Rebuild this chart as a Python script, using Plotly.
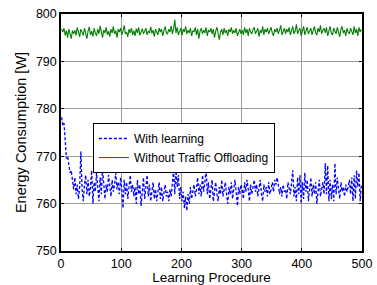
import plotly.graph_objects as go

# x positions (learning steps)
steps = list(range(1, 500, 2))

with_learning = [
    778.2, 776.5, 777.0, 772.0, 769.5, 770.0, 768.0, 766.5, 767.0, 764.5,
    763.0, 765.5, 762.0, 764.0, 761.0, 763.5, 771.0, 763.0, 760.5, 764.0,
    766.0, 762.0, 765.0, 761.5, 763.5, 767.0, 760.0, 764.5, 762.5, 766.5,
    763.0, 760.5, 765.5, 762.0, 767.5, 763.5, 761.0, 764.0, 762.5, 766.0,
    763.5, 761.5, 765.0, 762.5, 764.0, 766.5, 763.0, 764.5, 762.0, 765.5,
    763.0, 759.0, 765.0, 762.0, 764.5, 761.0, 763.5, 766.0, 762.5, 764.0,
    761.5, 763.5, 760.0, 765.0, 762.0, 764.0, 759.5, 763.0, 765.5, 761.0,
    763.5, 766.0, 761.5, 764.0, 760.5, 762.5, 764.5, 761.0, 763.0, 760.5,
    762.5, 764.5, 761.0, 763.5, 760.5, 762.0, 764.0, 761.5, 762.5, 760.5,
    763.0, 761.5, 764.0, 767.0, 762.0, 767.5, 763.5, 766.0, 761.0, 763.5,
    760.5, 762.5, 759.0, 761.5, 758.5, 762.0, 760.0, 763.5, 761.0, 762.5,
    764.0, 761.5, 763.0, 765.5, 762.0, 764.0, 761.5, 766.0, 762.5, 764.5,
    767.5, 762.0, 764.5, 761.0, 763.5, 765.0, 760.5, 763.0, 764.5, 762.0,
    760.5, 763.5, 762.0, 765.0, 761.5, 763.0, 764.5, 762.0, 760.0, 763.5,
    762.0, 764.5, 761.0, 763.0, 765.0, 762.5, 759.5, 763.5, 762.0, 764.0,
    763.0, 761.0, 764.5, 762.5, 765.0, 763.0, 760.5, 764.0, 762.0, 763.5,
    765.0, 762.5, 764.0, 761.5, 763.5, 765.0, 762.0, 760.5, 764.0, 762.5,
    763.5, 761.5, 764.5, 762.0, 763.0, 764.5, 762.5, 765.0, 764.0, 765.5,
    764.0, 762.0, 763.5, 761.5, 764.0, 762.5, 763.0, 761.0, 764.5, 763.0,
    762.0, 764.5, 767.0, 761.5, 763.5, 760.5, 765.5, 762.0, 766.0, 760.0,
    764.5, 761.0, 766.5, 762.5, 765.0, 760.5, 763.5, 765.5, 761.5, 764.0,
    762.0, 764.5, 760.0, 763.5, 765.0, 761.5, 763.0, 764.5, 762.0, 768.5,
    762.0, 768.0, 760.5, 765.0, 761.0, 764.0, 760.5, 768.5, 762.0, 765.5,
    763.0, 761.0, 764.5, 762.5, 763.5, 761.5, 764.0, 762.5, 763.5, 765.0,
    762.0, 765.5, 760.5, 766.0, 761.0, 767.0, 763.5, 766.5, 760.5, 764.0,
]

without_offloading = [
    796.8, 796.2, 797.0, 795.5, 796.5, 795.0, 796.8, 796.0, 794.8, 796.5,
    795.8, 796.6, 795.5, 797.2, 796.0, 795.2, 796.8, 796.2, 795.5, 797.0,
    796.0, 794.8, 796.5, 797.3, 795.6, 796.4, 795.2, 797.0, 796.0, 795.4,
    796.8, 795.8, 797.5, 796.2, 795.0, 796.6, 796.0, 797.2, 795.6, 796.4,
    795.2, 796.8, 796.0, 797.4, 795.8, 796.5, 795.0, 796.8, 796.2, 797.0,
    795.6, 796.4, 797.6, 795.8, 796.2, 795.2, 796.8, 796.0, 797.0, 795.6,
    796.5, 795.4, 796.9, 796.0, 797.2, 795.5, 796.3, 796.9, 795.8, 796.5,
    797.0, 795.6, 796.4, 796.0, 797.3, 795.9, 796.6, 795.2, 796.8, 796.2,
    795.6, 797.0, 796.2, 796.8, 795.4, 796.5, 797.4, 796.0, 795.8, 796.8,
    796.2, 797.5, 795.8, 796.8, 798.8, 796.0, 797.2, 795.6, 796.6, 797.0,
    795.5, 796.8, 796.2, 797.4, 795.8, 796.6, 796.0, 797.0, 795.4, 796.5,
    796.2, 797.2, 795.6, 796.8, 794.8, 796.4, 797.0, 795.8, 796.6, 796.0,
    797.2, 795.4, 796.6, 796.2, 797.0, 795.8, 796.8, 795.0, 796.4, 797.2,
    795.8, 794.6, 796.2, 796.8, 795.6, 797.0, 796.0, 796.6, 795.4, 796.8,
    796.2, 797.2, 795.8, 796.6, 796.0, 797.0, 795.4, 796.4, 796.8, 795.8,
    796.6, 795.6, 797.2, 796.0, 796.8, 795.4, 797.0, 796.2, 795.8, 796.8,
    797.2, 795.8, 796.4, 797.0, 795.2, 796.6, 796.0, 797.4, 795.6, 796.8,
    796.2, 797.0, 795.8, 796.6, 797.2, 796.0, 795.4, 796.8, 796.2, 797.0,
    795.8, 796.6, 797.6, 795.6, 796.4, 797.0, 795.8, 796.8, 796.2, 797.2,
    795.6, 796.8, 797.4, 795.8, 796.4, 797.8, 795.8, 796.6, 797.0, 795.4,
    796.8, 797.4, 795.6, 796.6, 797.2, 795.8, 796.4, 797.0, 795.6, 796.8,
    797.4, 796.0, 795.6, 797.0, 796.2, 797.6, 795.8, 796.6, 797.0, 796.0,
    797.2, 795.4, 796.6, 797.4, 796.0, 795.6, 797.0, 796.4, 795.8, 797.2,
    796.2, 795.2, 796.8, 797.4, 796.0, 796.6, 795.4, 797.0, 796.2, 795.8,
    797.0, 796.2, 795.6, 797.4, 796.0, 796.8, 795.4, 797.2, 796.2, 796.8,
]

x_ticks = [0, 100, 200, 300, 400, 500]
y_ticks = [750, 760, 770, 780, 790, 800]

FONT = "Liberation Sans, Arial, sans-serif"

fig = go.Figure()
fig.add_trace(go.Scatter(
    x=steps, y=with_learning, mode="lines", name="With learning",
    line=dict(color="#0000ff", width=1.3, dash="3px,2px"),
))
fig.add_trace(go.Scatter(
    x=steps, y=without_offloading, mode="lines", name="Without Traffic Offloading",
    line=dict(color="#008000", width=1.1),
))

axis_common = dict(
    showline=True, linecolor="black", linewidth=1.5, mirror="ticks",
    ticks="inside", ticklen=3, tickcolor="black",
    showgrid=True, gridcolor="#9a9a9a", gridwidth=1, zeroline=False,
    tickfont=dict(family=FONT, size=12.5, color="black"),
    automargin=False,
)

fig.update_layout(
    width=377, height=285,
    margin=dict(l=61, r=15, t=14, b=34),
    paper_bgcolor="white", plot_bgcolor="white",
    font=dict(family=FONT, size=12, color="black"),
    showlegend=True,
    legend=dict(
        x=0.106, y=0.54, xanchor="left", yanchor="top",
        bgcolor="white", bordercolor="black", borderwidth=1,
        font=dict(family=FONT, size=12, color="black"),
        tracegroupgap=0, itemwidth=30,
    ),
    xaxis=dict(
        range=[0, 500], tickvals=x_ticks, ticktext=[str(v) for v in x_ticks],
        title=dict(text="Learning Procedure", font=dict(family=FONT, size=13.5), standoff=0),
        **axis_common,
    ),
    yaxis=dict(
        range=[750, 800], tickvals=y_ticks, ticktext=[str(v) for v in y_ticks],
        title=dict(text="Energy Consumption [W]", font=dict(family=FONT, size=14.5), standoff=6),
        **axis_common,
    ),
)

fig.write_html(
    "out.html",
    config={"displayModeBar": False},
    post_script="document.body.style.margin='0px';document.body.style.overflow='hidden';",
)
